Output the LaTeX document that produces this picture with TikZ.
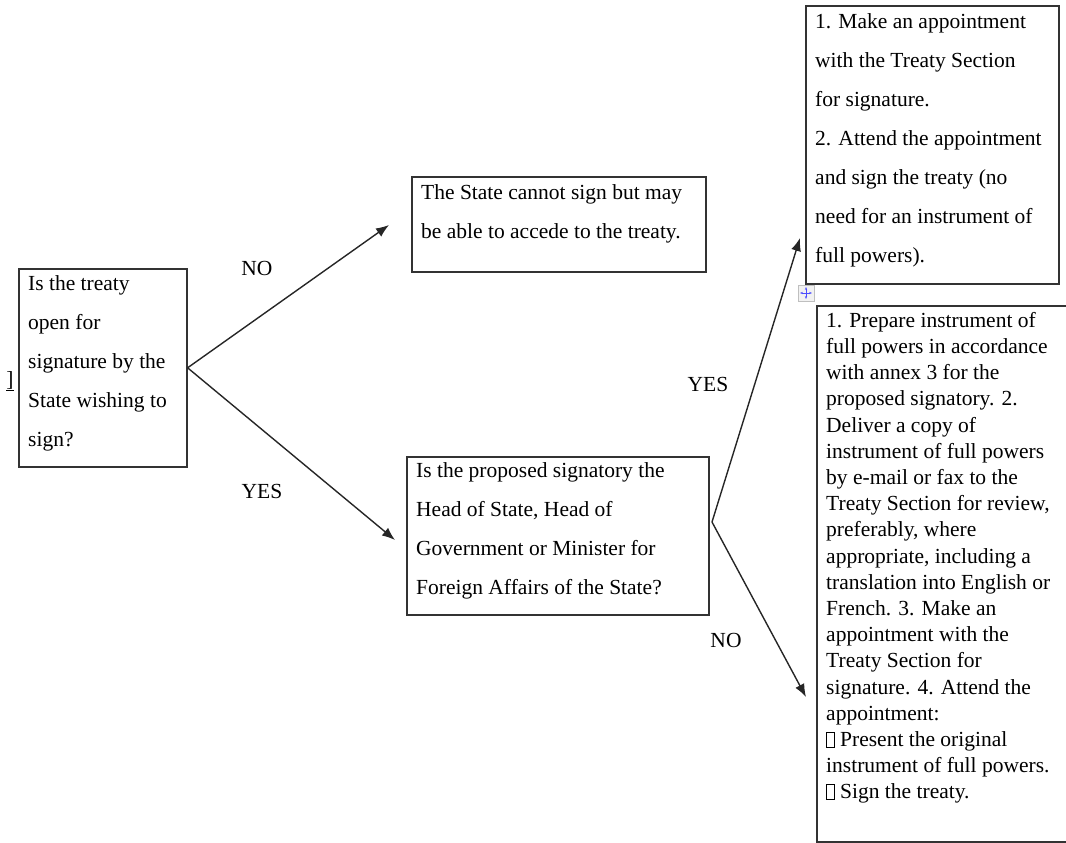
\documentclass[tikz,border=0pt]{standalone}
\usepackage{fontspec}
\setmainfont{Liberation Serif}
\usepackage{tikz}
\usetikzlibrary{arrows.meta}
\usetikzlibrary{positioning}
\usetikzlibrary{calc}

\newcommand{\tofu}{{\fboxsep=0pt\fboxrule=0.8pt\fbox{\rule{0pt}{14pt}\hspace{7pt}}}}

\begin{document}
\begin{tikzpicture}[x=1pt,y=-1pt]
\tikzset{
    box/.style={draw=black!80, line width=1.6pt, anchor=north west, inner sep=0pt},
    txt/.style={anchor=north west, inner sep=0pt, align=left,
        font=\fontsize{21.5}{39}\selectfont},
    tighttxt/.style={txt, font=\fontsize{21.5}{26.2}\selectfont},
    lbl/.style={font=\fontsize{21.5}{26}\selectfont, inner sep=0pt},
    arr/.style={draw=black!85, line width=1.4pt, -{Latex[length=13pt,width=10pt]}},
}
  \useasboundingbox (0,0) rectangle (1066,843);

  % boxes
  \node[box, minimum width=168pt, minimum height=198pt] (A) at (18,268) {};
  \node[box, minimum width=294pt, minimum height=95pt] (B) at (411,176) {};
  \node[box, minimum width=302pt, minimum height=158pt] (C) at (406,456) {};
  \node[box, minimum width=253pt, minimum height=278pt] (D) at (805,5) {};
  \node[box, minimum width=262pt, minimum height=536pt] (E) at (816,305) {};

  % texts
  \node[txt] (At) at (28,275) {Is the treaty\\open for\\signature by the\\State wishing to\\sign?};
  \node[txt] (Bt) at (421,184) {The State cannot sign but may\\be able to accede to the treaty.};
  \node[txt] (Ct) at (416,462) {Is the proposed signatory the\\Head of State, Head of\\Government or Minister for\\Foreign Affairs of the State?};
  \node[txt] (Dt) at (815,13) {1. Make an appointment\\with the Treaty Section\\for signature.\\2. Attend the appointment\\and sign the treaty (no\\need for an instrument of\\full powers).};
  \node[tighttxt] (Et) at (826,312) {1. Prepare instrument of\\full powers in accordance\\with annex 3 for the\\proposed signatory. 2.\\Deliver a copy of\\instrument of full powers\\by e-mail or fax to the\\Treaty Section for review,\\preferably, where\\appropriate, including a\\translation into English or\\French. 3. Make an\\appointment with the\\Treaty Section for\\signature. 4. Attend the\\appointment:\\\tofu{} Present the original\\instrument of full powers.\\\tofu{} Sign the treaty.};

  % arrow ends
  \coordinate (noEnd) at (389,225);
  \coordinate (yesEnd) at (395,540);
  \coordinate (fork) at (712,522);
  \coordinate (yesEnd2) at (800,238);
  \coordinate (noEnd2) at (806,697);

  \draw[arr] (A.east) -- (noEnd);
  \draw[arr] (A.east) -- (yesEnd);
  \draw[arr] (fork) -- (yesEnd2);
  \draw[arr] (fork) -- (noEnd2);

  \node[lbl] (no1) at (257,268) {NO};
  \node[lbl] (yes1) at (262,491) {YES};
  \node[lbl] (yes2) at (708,384) {YES};
  \node[lbl] (no2) at (726,640) {NO};

  \node[lbl] (mark) at (10,381) {\underline{]}};

  % move handle
  \node[draw=black!25, fill=black!5, line width=0.8pt, minimum size=16pt, inner sep=0pt] (handle) at (806,293) {};
  \draw[blue!70, line width=1pt, {Stealth[length=3pt]}-{Stealth[length=3pt]}] ($(handle.center)+(-6,0)$) -- ($(handle.center)+(6,0)$);
  \draw[blue!70, line width=1pt, {Stealth[length=3pt]}-{Stealth[length=3pt]}] ($(handle.center)+(0,-6)$) -- ($(handle.center)+(0,6)$);
\end{tikzpicture}
\end{document}
